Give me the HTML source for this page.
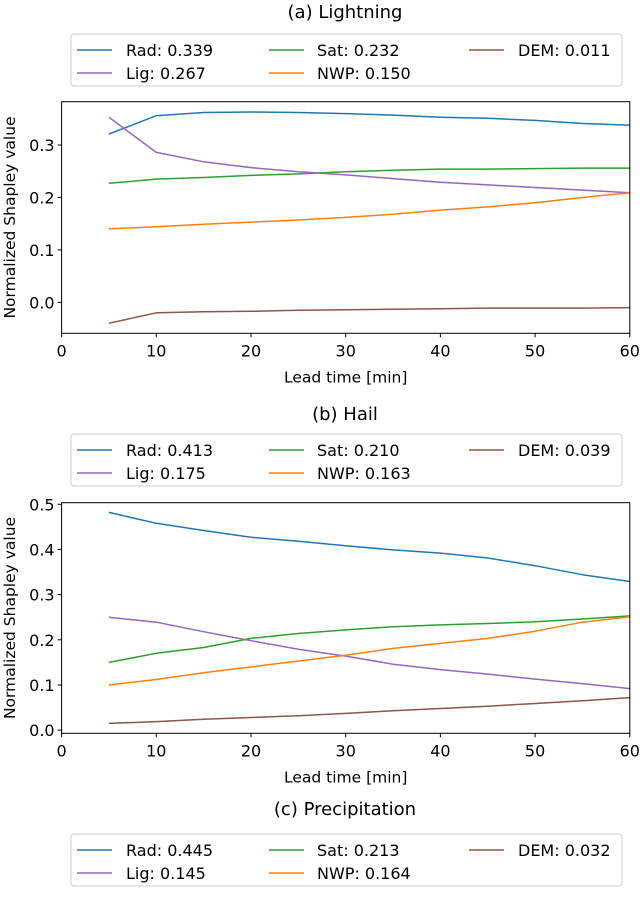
<!DOCTYPE html>
<html><head><meta charset="utf-8"><style>
body{margin:0;background:#fff}
svg text{font-family:"DejaVu Sans","Liberation Sans",sans-serif;fill:#000}
</style></head><body>
<svg id="fig" width="640" height="892" xmlns="http://www.w3.org/2000/svg"></svg>
<script>
const leadTimes=[5,10,15,20,25,30,35,40,45,50,55,60];
const xTicks=[0,10,20,30,40,50,60];
const seriesNames=["Rad","Sat","DEM","Lig","NWP"];
const seriesColors=["#1f77b4","#2ca02c","#8c564b","#9467bd","#ff7f0e"];
const lightningLegend=["0.339","0.232","0.011","0.267","0.150"];
const hailLegend=["0.413","0.210","0.039","0.175","0.163"];
const precipLegend=["0.445","0.213","0.032","0.145","0.164"];
const lightningRad=[0.321,0.356,0.362,0.363,0.362,0.360,0.357,0.353,0.351,0.347,0.341,0.338];
const lightningSat=[0.227,0.235,0.238,0.242,0.245,0.249,0.252,0.254,0.254,0.255,0.256,0.256];
const lightningDem=[-0.040,-0.020,-0.018,-0.017,-0.015,-0.014,-0.013,-0.012,-0.011,-0.011,-0.011,-0.010];
const lightningLig=[0.353,0.286,0.268,0.257,0.249,0.243,0.236,0.229,0.224,0.219,0.214,0.209];
const lightningNwp=[0.140,0.144,0.149,0.153,0.157,0.162,0.168,0.176,0.182,0.190,0.200,0.209];
const lightningYTicks=["0.0","0.1","0.2","0.3"];
const hailRad=[0.482,0.458,0.442,0.427,0.418,0.408,0.399,0.392,0.381,0.364,0.344,0.329];
const hailSat=[0.150,0.170,0.183,0.203,0.214,0.222,0.229,0.233,0.236,0.240,0.246,0.253];
const hailDem=[0.015,0.019,0.024,0.028,0.032,0.037,0.043,0.048,0.053,0.059,0.065,0.072];
const hailLig=[0.250,0.239,0.218,0.198,0.179,0.164,0.146,0.134,0.124,0.113,0.103,0.092];
const hailNwp=[0.100,0.112,0.127,0.140,0.153,0.166,0.181,0.192,0.203,0.219,0.239,0.251];
const hailYTicks=["0.0","0.1","0.2","0.3","0.4","0.5"];

const NS="http://www.w3.org/2000/svg";
const svg=document.getElementById('fig');
function mk(tag,attrs,parent){const e=document.createElementNS(NS,tag);for(const k in attrs)e.setAttribute(k,attrs[k]);(parent||svg).appendChild(e);return e;}
const X0=61.6,X1=629.8;
function xs(v){return X0+(v-0)/(60-0)*(X1-X0);}

function legend(y,vals,key){
  const g=mk('g',{});
  
  
  mk('rect',{x:71,y:y,width:551,height:52,rx:3,fill:'#fff',stroke:'#ccc','stroke-width':1},g);
  const colL=[77,269,469],colT=[126,317,518];
  for(let i=0;i<5;i++){
    const c=i%3,r=Math.floor(i/3);
    const ry=y+16+r*23;
    const e=mk('g',{},g);
    
    
    mk('line',{x1:colL[c],x2:colL[c]+35,y1:ry,y2:ry,stroke:seriesColors[i],'stroke-width':1.5},e);
    const t=mk('text',{x:colT[c],y:ry+6,'font-size':16},e);
    t.textContent=seriesNames[i]+': '+vals[i];
  }
}
function title(y,txt,key){
  const t=mk('text',{x:345,y:y,'font-size':18,'text-anchor':'middle'});
  t.textContent=txt;
  
  
}
function panel(key,top,bot,ymin,ymax,yticks,series){
  const g=mk('g',{});
  
  
  const ys=v=>bot-(v-ymin)/(ymax-ymin)*(bot-top);
  series.forEach((s,i)=>{
    const d=s.map((v,j)=>(j?'L':'M')+xs(leadTimes[j]).toFixed(1)+','+ys(v).toFixed(1)).join(' ');
    const p=mk('path',{d:d,fill:'none',stroke:seriesColors[i],'stroke-width':1.5,'stroke-linejoin':'round'},g);
    
    
  });
  mk('rect',{x:X0,y:top,width:X1-X0,height:bot-top,fill:'none',stroke:'#000','stroke-width':1},g);
  yticks.forEach(t=>{
    const y=ys(parseFloat(t));
    mk('line',{x1:X0-4,x2:X0,y1:y,y2:y,stroke:'#000'},g);
    const tx=mk('text',{x:X0-7,y:y+6,'font-size':16,'text-anchor':'end'},g);
    tx.textContent=t;
  });
  xTicks.forEach(t=>{
    const x=xs(t);
    mk('line',{x1:x,x2:x,y1:bot,y2:bot+4,stroke:'#000'},g);
    const tx=mk('text',{x:x,y:bot+23,'font-size':16,'text-anchor':'middle'},g);
    tx.textContent=t;
  });
  const xl=mk('text',{x:(X0+X1)/2,y:bot+49,'font-size':15.5,'text-anchor':'middle'},g);
  xl.textContent='Lead time [min]';
  
  
  const cy=(top+bot)/2;
  const yl=mk('text',{x:15,y:cy,'font-size':15.5,'text-anchor':'middle',transform:'rotate(-90 15 '+cy+')'},g);
  yl.textContent='Normalized Shapley value';
  
  
}
title(18,'(a) Lightning','lightning');
legend(34,lightningLegend,'lightning');
panel('lightning',101.7,333.3,-0.059,0.3826,lightningYTicks,[lightningRad,lightningSat,lightningDem,lightningLig,lightningNwp]);
title(420,'(b) Hail','hail');
legend(434,hailLegend,'hail');
panel('hail',502.7,733.3,-0.007,0.5035,hailYTicks,[hailRad,hailSat,hailDem,hailLig,hailNwp]);
title(815,'(c) Precipitation','precipitation');
legend(834,precipLegend,'precipitation');
</script>
</body></html>
